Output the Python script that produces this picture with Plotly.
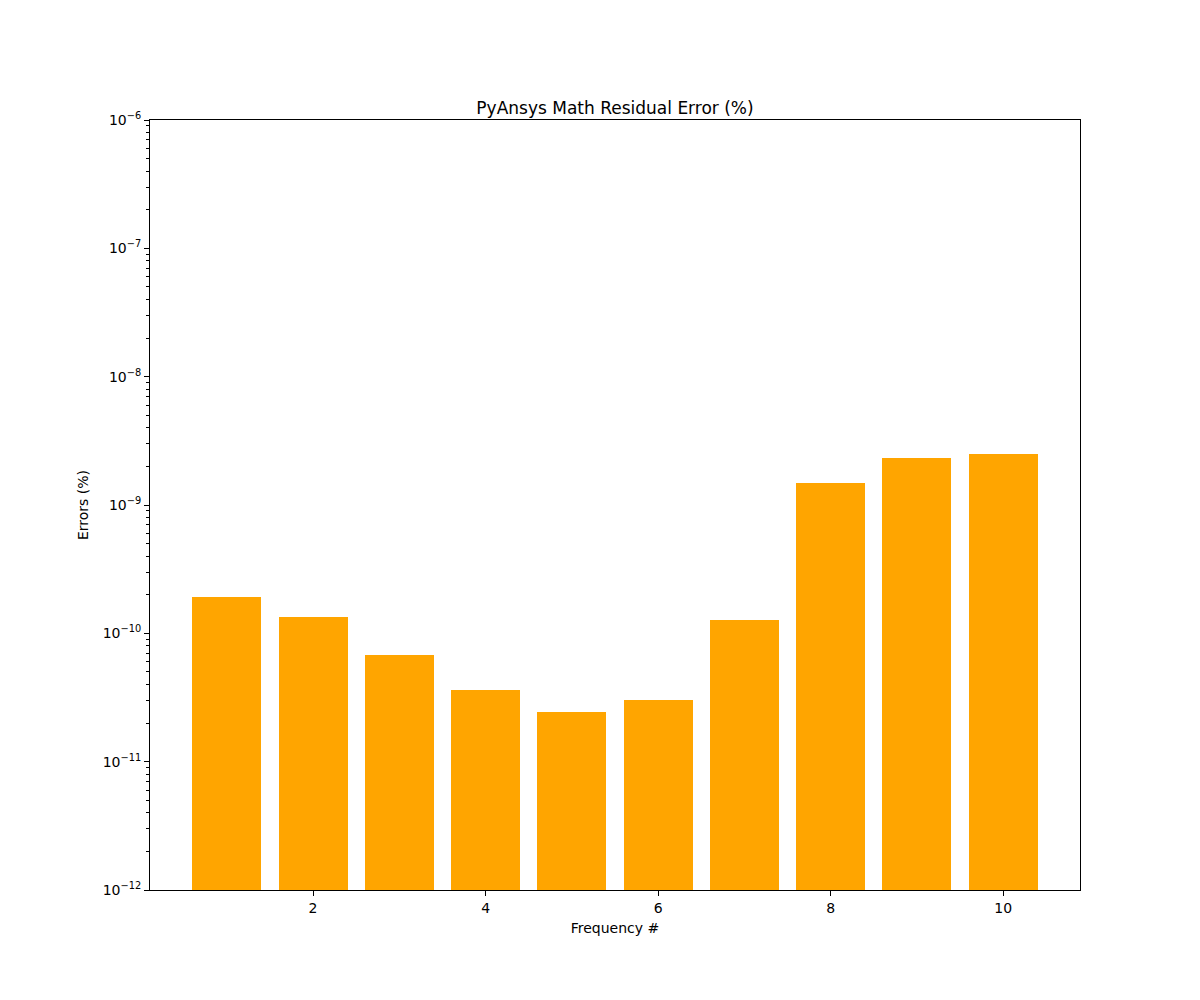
import plotly.graph_objects as go

frequencies = [1, 2, 3, 4, 5, 6, 7, 8, 9, 10]
errors = [1.92e-10, 1.34e-10, 6.78e-11, 3.61e-11, 2.44e-11,
          3.02e-11, 1.27e-10, 1.48e-9, 2.32e-9, 2.49e-9]

decades = [-12, -11, -10, -9, -8, -7, -6]
y_tickvals = [10.0 ** d for d in decades]
y_ticktext = ["10<sup>\u2212%d</sup>" % (-d) for d in decades]
y_minor = [k * 10.0 ** d for d in decades[:-1] for k in range(2, 10)]

x_tickvals = [2, 4, 6, 8, 10]

font = "DejaVu Sans, sans-serif"

fig = go.Figure(go.Bar(
    x=frequencies, y=errors, width=0.8,
    marker=dict(color="#FFA500", line=dict(width=0)),
))

fig.update_layout(
    width=1200, height=1000,
    margin=dict(l=142, r=128, t=112, b=118),
    paper_bgcolor="white", plot_bgcolor="white",
    font=dict(family=font, size=14, color="black"),
    showlegend=False,
    title=dict(text="PyAnsys Math Residual Error (%)", x=0.5, xref="paper",
               y=1, yref="paper", yanchor="bottom", pad=dict(b=6),
               font=dict(size=17, family=font)),
    bargap=0,
)

fig.update_xaxes(
    range=[0.11, 10.89], tickmode="array", tickvals=x_tickvals,
    ticks="outside", ticklen=5, tickwidth=1, tickcolor="black",
    showline=True, linecolor="black", linewidth=1, mirror=True,
    showgrid=False, zeroline=False,
    title=dict(text="Frequency #", font=dict(size=14), standoff=8),
)

fig.update_yaxes(
    type="log", range=[-12, -6], tickmode="array",
    tickvals=y_tickvals, ticktext=y_ticktext,
    ticks="outside", ticklen=5, tickwidth=1, tickcolor="black",
    minor=dict(tickmode="array", tickvals=y_minor, ticks="outside",
               ticklen=3, tickwidth=1, tickcolor="black", showgrid=False),
    showline=True, linecolor="black", linewidth=1, mirror=True,
    showgrid=False, zeroline=False,
    title=dict(text="Errors (%)", font=dict(size=14), standoff=10),
)

fig.write_html("out.html")
